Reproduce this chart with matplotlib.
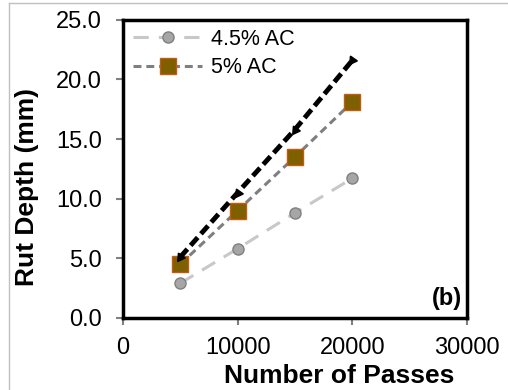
import numpy as np
import matplotlib
matplotlib.use("Agg")
from matplotlib import pyplot as plt
from matplotlib.lines import Line2D

plt.rcParams['font.family'] = ['Liberation Sans', 'DejaVu Sans']

passes = [5000, 10000, 15000, 20000]
ac45 = [2.9, 5.8, 8.8, 11.7]
ac5 = [4.5, 9.0, 13.5, 18.1]
trend = [5.1, 10.5, 15.8, 21.6]

xticks = [0, 10000, 20000, 30000]
yticks = [0, 5, 10, 15, 20, 25]

fig = plt.figure(figsize=(5.08, 3.90), dpi=100)
ax = fig.add_axes([0.242, 0.185, 0.677, 0.764])

# thin grey frame lines at left and top of picture
fig.add_artist(Line2D([9/508, 9/508], [0, 1 - 3/390], color='#c0c0c0', lw=1))
fig.add_artist(Line2D([9/508, 1], [1 - 3/390, 1 - 3/390], color='#c0c0c0', lw=1))

ax.plot(passes, ac45, linestyle=(0, (5, 3.3)), color='#c8c8c8', lw=2.2,
        marker='o', ms=8, mfc='#a6a6a6', mec='#808080', mew=1, label='4.5% AC')
ax.plot(passes, ac5, linestyle=(0, (2.6, 1.6)), color='#7f7f7f', lw=2.2,
        marker='s', ms=11, mfc='#7f6000', mec='#c55a11', mew=1, label='5% AC')
ax.plot(passes, trend, linestyle=(0, (2.2, 1.0)), color='black', lw=3.5,
        marker=(3, 0, 25), ms=7, mfc='black', mec='black')

ax.set_xlim(0, 30000)
ax.set_ylim(0, 25)
ax.set_xticks(xticks)
ax.set_yticks(yticks)
ax.set_yticklabels(['%.1f' % v for v in yticks])
ax.tick_params(axis='both', direction='out', length=5, width=1.5,
               color='#808080', labelsize=17)
ax.tick_params(axis='y', pad=10)
ax.tick_params(axis='x', pad=9)

for s in ax.spines.values():
    s.set_linewidth(2.5)
    s.set_color('black')

ax.set_xlabel('Number of Passes', fontsize=19, fontweight='bold', labelpad=2)
ax.xaxis.set_label_coords(0.63, -0.155)
ax.set_ylabel('Rut Depth (mm)', fontsize=19, fontweight='bold')
ax.yaxis.set_label_coords(-0.244, 0.44)

ax.text(0.985, 0.025, '(b)', transform=ax.transAxes, ha='right', va='bottom',
        fontsize=17, fontweight='bold')

ax.legend(loc='upper left', frameon=False, fontsize=15.5, handlelength=3.2,
          borderaxespad=0.0, labelspacing=0.35, handletextpad=0.4,
          bbox_to_anchor=(0.005, 1.0))

fig.savefig('out.png', dpi=100)
